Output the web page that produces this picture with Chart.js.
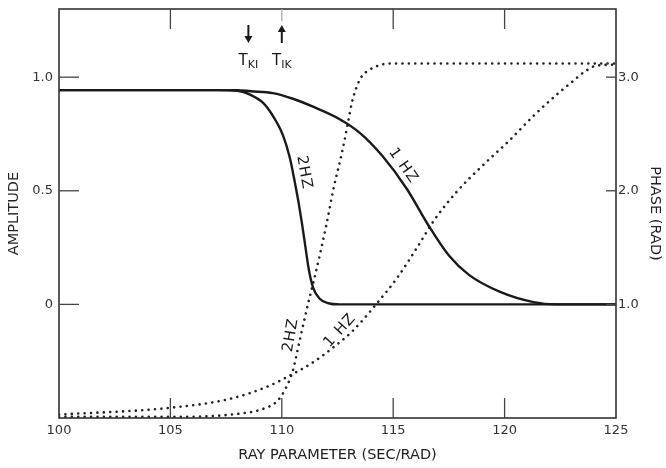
<!DOCTYPE html>
<html>
<head>
<meta charset="utf-8">
<script src="https://cdn.jsdelivr.net/npm/chart.js@4.4.0/dist/chart.umd.min.js"></script>
<style>
  html, body { margin: 0; padding: 0; background: #fff; }
  #wrap { width: 666px; height: 468px; }
</style>
</head>
<body>
<div id="wrap"><canvas id="rayChart"></canvas></div>
<script>
// tick values
const rayTicks = [100, 105, 110, 115, 120, 125];
const ampTicks = [0, 0.5, 1.0];
const phaseTicks = [1.0, 2.0, 3.0];

// amplitude, 2 Hz
const amp2Ray = [100, 107, 108, 108.6, 109.15, 109.6, 110.05, 110.36, 110.58, 110.75, 110.9, 111.05, 111.2, 111.4, 111.7, 112.1, 112.6, 125];
const amp2Val = [0.943, 0.943, 0.94, 0.922, 0.888, 0.83, 0.745, 0.645, 0.54, 0.45, 0.36, 0.26, 0.16, 0.075, 0.025, 0.005, 0, 0];

// amplitude, 1 Hz
const amp1Ray = [100, 108, 108.6, 109.6, 110.5, 111.4, 112.6, 113.5, 114.5, 115.6, 116.6, 117.5, 118.4, 119.8, 121.3, 122.3, 125];
const amp1Val = [0.943, 0.943, 0.938, 0.93, 0.905, 0.87, 0.815, 0.755, 0.655, 0.51, 0.345, 0.215, 0.13, 0.055, 0.01, 0, 0];

// phase, 2 Hz
const ph2Ray = [100, 105, 107.7, 109.15, 109.8, 110.2, 110.5, 110.8, 111.1, 111.4, 111.7, 112.0, 112.3, 112.75, 112.97, 113.15, 113.37, 113.6, 113.9, 114.3, 114.8, 125];
const ph2Val = [0.01, 0.01, 0.03, 0.08, 0.15, 0.27, 0.42, 0.68, 0.94, 1.18, 1.43, 1.7, 2.0, 2.38, 2.6, 2.78, 2.92, 3.01, 3.06, 3.1, 3.12, 3.12];

// phase, 1 Hz
const ph1Ray = [100, 105, 107.7, 109.47, 110.37, 111.4, 112.3, 113.2, 114.27, 115.2, 116.07, 116.8, 117.8, 119, 120.2, 121.3, 122.3, 123.1, 123.6, 124.1, 125];
const ph1Val = [0.03, 0.09, 0.17, 0.286, 0.375, 0.49, 0.62, 0.77, 1.01, 1.24, 1.5, 1.73, 1.98, 2.22, 2.44, 2.66, 2.84, 2.97, 3.05, 3.1, 3.11];

// curve labels: text, ray, value, axis, rotation (deg)
const curveNotes = [
  ['2HZ', 111.0, 0.58, 'y', 80],
  ['1 HZ', 115.45, 0.61, 'y', 55],
  ['2HZ', 110.41, 0.73, 'y2', -80],
  ['1 HZ', 112.61, 0.77, 'y2', -48]
];
// critical ray parameters
const critRay = [108.5, 110.0];
const critSub = ['KI', 'IK'];

const pts = (xs, ys) => xs.map((x, i) => ({ x: x, y: ys[i] }));
const FONT = '"DejaVu Sans", sans-serif';
const INK = '#1a1a1a';

const solid = { borderColor: INK, borderWidth: 2.4, pointRadius: 0, cubicInterpolationMode: 'monotone', fill: false };
const dotted = { borderColor: '#222', borderWidth: 2.6, borderDash: [0.01, 6.4], borderCapStyle: 'round', pointRadius: 0, cubicInterpolationMode: 'monotone', fill: false };

// keep the plot box fixed: no extra room for half tick labels
const noPad = s => { s.paddingTop = 0; s.paddingBottom = 0; s.paddingLeft = 0; s.paddingRight = 0; };

const paperPlugin = {
  id: 'paper',
  afterDatasetsDraw(chart) {
    const { ctx, chartArea: a, scales } = chart;
    const sx = scales.x, sy = scales.y, sp = scales.y2;
    ctx.save();
    // frame
    ctx.strokeStyle = '#333';
    ctx.lineWidth = 1.6;
    ctx.strokeRect(a.left, a.top, a.right - a.left, a.bottom - a.top);

    // inner ticks
    ctx.lineWidth = 1.3;
    rayTicks.slice(1, -1).forEach(v => {
      const px = sx.getPixelForValue(v);
      ctx.strokeStyle = '#444';
      ctx.beginPath(); ctx.moveTo(px, a.bottom); ctx.lineTo(px, a.bottom - 20); ctx.stroke();
      ctx.strokeStyle = v === 110 ? '#aaa' : '#444';
      ctx.beginPath(); ctx.moveTo(px, a.top); ctx.lineTo(px, a.top + (v === 110 ? 12 : 20)); ctx.stroke();
    });
    ctx.strokeStyle = '#444';
    ampTicks.forEach(v => {
      const py = sy.getPixelForValue(v);
      ctx.beginPath(); ctx.moveTo(a.left, py); ctx.lineTo(a.left + 20, py); ctx.stroke();
    });
    phaseTicks.forEach(v => {
      const py = sp.getPixelForValue(v);
      ctx.beginPath(); ctx.moveTo(a.right, py); ctx.lineTo(a.right - 10, py); ctx.stroke();
    });

    // curve labels
    ctx.fillStyle = INK;
    ctx.font = '15px ' + FONT;
    ctx.letterSpacing = '1px';
    ctx.textAlign = 'center';
    ctx.textBaseline = 'middle';
    curveNotes.forEach(([t, x, y, ax, rot]) => {
      ctx.save();
      ctx.translate(sx.getPixelForValue(x), scales[ax].getPixelForValue(y));
      ctx.rotate(rot * Math.PI / 180);
      ctx.fillText(t, 0, 0);
      ctx.restore();
    });
    ctx.letterSpacing = '0px';

    // T arrows
    critRay.forEach((r, i) => {
      const px = sx.getPixelForValue(r);
      const down = i === 0;
      const y0 = a.top + 16, y1 = a.top + 34;
      ctx.strokeStyle = INK;
      ctx.lineWidth = 2;
      ctx.beginPath();
      ctx.moveTo(px, down ? y0 : y0 + 6);
      ctx.lineTo(px, down ? y1 - 6 : y1);
      ctx.stroke();
      ctx.beginPath();
      if (down) {
        ctx.moveTo(px - 4, y1 - 7); ctx.lineTo(px + 4, y1 - 7); ctx.lineTo(px, y1);
      } else {
        ctx.moveTo(px - 4, y0 + 7); ctx.lineTo(px + 4, y0 + 7); ctx.lineTo(px, y0);
      }
      ctx.closePath();
      ctx.fill();

      ctx.textBaseline = 'alphabetic';
      ctx.textAlign = 'left';
      ctx.font = '15px ' + FONT;
      const tw = ctx.measureText('T').width;
      ctx.font = '11px ' + FONT;
      const sw = ctx.measureText(critSub[i]).width;
      const startX = px - (tw + sw) / 2;
      ctx.font = '15px ' + FONT;
      ctx.fillText('T', startX, a.top + 56);
      ctx.font = '11px ' + FONT;
      ctx.fillText(critSub[i], startX + tw, a.top + 59);
    });
    ctx.restore();
  }
};

new Chart(document.getElementById('rayChart').getContext('2d'), {
  type: 'line',
  data: {
    datasets: [
      Object.assign({ label: 'Amplitude 2 Hz', data: pts(amp2Ray, amp2Val), yAxisID: 'y' }, solid),
      Object.assign({ label: 'Amplitude 1 Hz', data: pts(amp1Ray, amp1Val), yAxisID: 'y' }, solid),
      Object.assign({ label: 'Phase 2 Hz', data: pts(ph2Ray, ph2Val), yAxisID: 'y2' }, dotted),
      Object.assign({ label: 'Phase 1 Hz', data: pts(ph1Ray, ph1Val), yAxisID: 'y2' }, dotted)
    ]
  },
  options: {
    responsive: true,
    maintainAspectRatio: false,
    animation: false,
    layout: { padding: { top: 9, left: 0, right: 0, bottom: 0 } },
    plugins: { legend: { display: false }, tooltip: { enabled: false } },
    scales: {
      x: {
        type: 'linear',
        min: 100, max: 125,
        afterBuildTicks: s => { s.ticks = rayTicks.map(v => ({ value: v })); },
        afterFit: s => { s.height = 50; noPad(s); },
        grid: { drawOnChartArea: false, drawTicks: false },
        border: { display: false },
        ticks: { padding: 5, color: '#333', font: { family: FONT, size: 13 }, maxRotation: 0 },
        title: { display: true, text: 'RAY PARAMETER (SEC/RAD)', color: '#222', font: { family: FONT, size: 14.5 }, padding: { bottom: 4 } }
      },
      y: {
        position: 'left',
        min: -0.5, max: 1.3,
        afterBuildTicks: s => { s.ticks = ampTicks.map(v => ({ value: v })); },
        afterFit: s => { s.width = 59; noPad(s); },
        grid: { drawOnChartArea: false, drawTicks: false },
        border: { display: false },
        ticks: { padding: 6, color: '#333', font: { family: FONT, size: 13 }, callback: v => v === 0 ? '0' : v.toFixed(1) },
        title: { display: true, text: 'AMPLITUDE', color: '#222', font: { family: FONT, size: 14.5 }, padding: { top: 6 } }
      },
      y2: {
        position: 'right',
        min: 0, max: 3.6,
        afterBuildTicks: s => { s.ticks = phaseTicks.map(v => ({ value: v })); },
        afterFit: s => { s.width = 50; noPad(s); },
        grid: { drawOnChartArea: false, drawTicks: false },
        border: { display: false },
        ticks: { padding: 2, color: '#333', font: { family: FONT, size: 13 }, callback: v => v.toFixed(1) },
        title: { display: true, text: 'PHASE (RAD)', color: '#222', font: { family: FONT, size: 14.5 }, padding: { top: 3 } }
      }
    }
  },
  plugins: [paperPlugin]
});
</script>
</body>
</html>
